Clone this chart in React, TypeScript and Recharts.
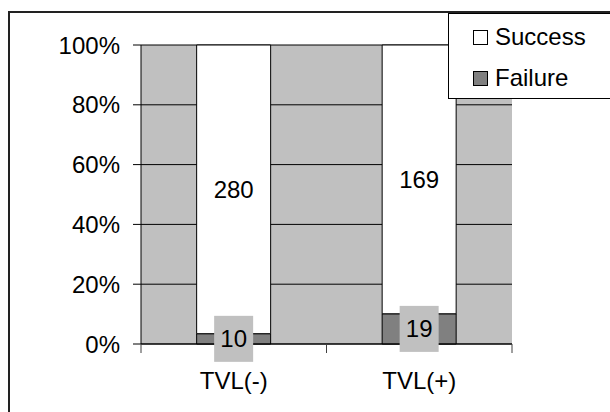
import React from "react";
import {
  BarChart,
  Bar,
  XAxis,
  YAxis,
  CartesianGrid,
  LabelList,
  ReferenceLine,
} from "recharts";

const categories = ["TVL(-)", "TVL(+)"];
const success = [280, 169];
const failure = [10, 19];
const yTicks = [0, 0.2, 0.4, 0.6, 0.8, 1];

const series = [
  { key: "success", name: "Success", color: "#FFFFFF" },
  { key: "failure", name: "Failure", color: "#808080" },
];

const data = categories.map((name, i) => ({
  name,
  success: success[i],
  failure: failure[i],
}));

const font = '"Liberation Sans", Arial, sans-serif';

function SuccessLabel(props: any) {
  const { x, y, width, height, value } = props;
  return (
    <text
      x={x + width / 2}
      y={y + height / 2}
      dy="0.355em"
      textAnchor="middle"
      fontSize={24}
      fontFamily={font}
      fill="#000"
    >
      {value}
    </text>
  );
}

function FailureLabel(props: any) {
  const { x, y, width, height, value } = props;
  const cx = x + width / 2;
  const cy = y + height / 2;
  return (
    <g>
      <rect x={cx - 19.5} y={cy - 23} width={39} height={46} fill="#C0C0C0" />
      <text
        x={cx}
        y={cy}
        dy="0.355em"
        textAnchor="middle"
        fontSize={24}
        fontFamily={font}
        fill="#000"
      >
        {value}
      </text>
    </g>
  );
}

// category label + tick marks on the band edges (Excel style)
function CategoryTick(props: any) {
  const { x, y, payload, index } = props;
  const half = payload?.offset ?? 0;
  const last = index === categories.length - 1;
  return (
    <g>
      <line x1={x - half} x2={x - half} y1={y} y2={y + 9} stroke="#404040" />
      {last && (
        <line x1={x + half} x2={x + half} y1={y} y2={y + 9} stroke="#404040" />
      )}
      <text
        x={x}
        y={y + 28}
        dy="0.71em"
        textAnchor="middle"
        fontSize={24}
        fontFamily={font}
        fill="#000"
      >
        {payload.value}
      </text>
    </g>
  );
}

const rowTops = [9, 50];

export default function App() {
  return (
    <div
      style={{
        position: "absolute",
        left: 0,
        top: 0,
        width: 610,
        height: 412,
        overflow: "hidden",
        background: "#fff",
      }}
    >
      {/* outer chart frame, runs off the right and bottom */}
      <div
        style={{
          position: "absolute",
          left: 8,
          top: 11,
          width: 640,
          height: 440,
          borderLeft: "2px solid #222",
          borderTop: "2px solid #222",
        }}
      />
      <div style={{ position: "absolute", left: 0, top: 0 }}>
        <BarChart
          width={610}
          height={412}
          data={data}
          stackOffset="expand"
          barCategoryGap="30%"
          margin={{ top: 45, right: 98, bottom: 8, left: 0 }}
        >
          <CartesianGrid
            vertical={false}
            fill="#C0C0C0"
            fillOpacity={1}
            stroke="#000"
          />
          <XAxis
            dataKey="name"
            height={60}
            tickSize={0}
            tickMargin={0}
            tickLine={false}
            interval={0}
            axisLine={{ stroke: "#000" }}
            tick={<CategoryTick />}
          />
          <XAxis xAxisId="b" type="number" domain={[0, 2]} hide />
          <YAxis
            width={141}
            domain={[0, 1]}
            ticks={yTicks}
            tickFormatter={(v) => `${Math.round(v * 100)}%`}
            tickSize={8}
            tickMargin={13}
            axisLine={{ stroke: "#000" }}
            tickLine={{ stroke: "#000" }}
            tick={{ fontSize: 24, fill: "#000", fontFamily: font }}
          />
          <Bar
            dataKey="failure"
            stackId="a"
            fill="#808080"
            stroke="#000"
            isAnimationActive={false}
          >
            <LabelList dataKey="failure" content={FailureLabel} />
          </Bar>
          <Bar
            dataKey="success"
            stackId="a"
            fill="#FFFFFF"
            stroke="#000"
            isAnimationActive={false}
          >
            <LabelList dataKey="success" content={SuccessLabel} />
          </Bar>
          <ReferenceLine xAxisId="b" x={2} stroke="#808080" />
        </BarChart>
      </div>
      {/* legend */}
      <div
        style={{
          position: "absolute",
          left: 448,
          top: 13,
          width: 200,
          height: 86,
          border: "1px solid #000",
          background: "#fff",
          boxSizing: "border-box",
          fontFamily: font,
          fontSize: 24,
          color: "#000",
        }}
      >
        {series.map((s, i) => (
          <div
            key={s.key}
            style={{
              position: "absolute",
              left: 24,
              top: rowTops[i],
              height: 28,
              display: "flex",
              alignItems: "center",
              whiteSpace: "nowrap",
            }}
          >
            <span
              style={{
                display: "inline-block",
                width: 15,
                height: 15,
                boxSizing: "border-box",
                border: "1px solid #000",
                background: s.color,
                marginRight: 7,
              }}
            />
            <span>{s.name}</span>
          </div>
        ))}
      </div>
    </div>
  );
}
